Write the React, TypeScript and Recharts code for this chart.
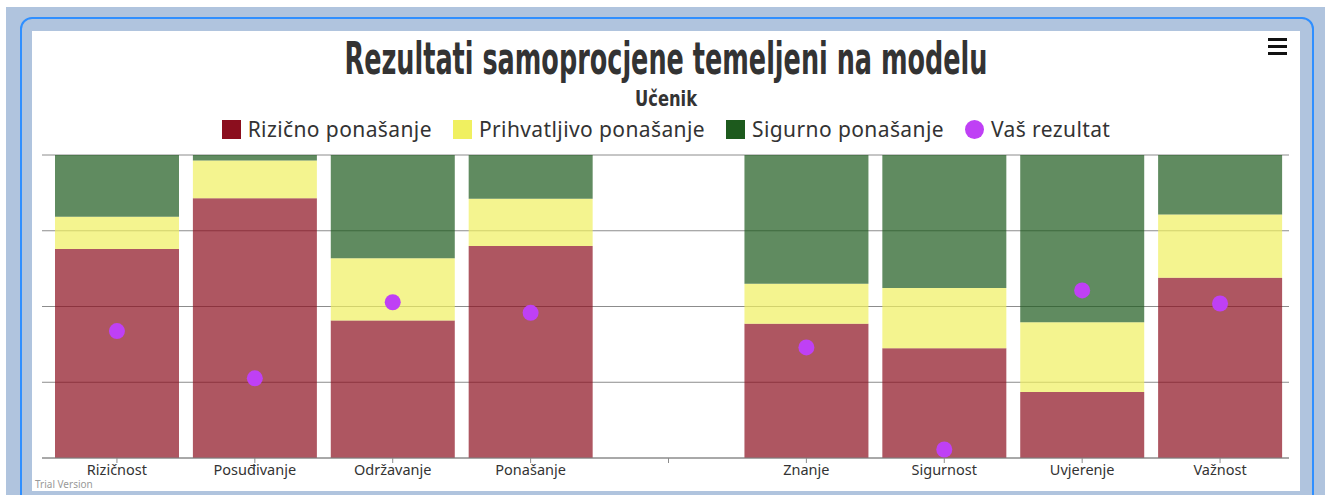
import React from "react";
import {
  ComposedChart,
  Bar,
  Line,
  XAxis,
  YAxis,
  CartesianGrid
} from "recharts";

const categories = [
  "Rizičnost",
  "Posuđivanje",
  "Održavanje",
  "Ponašanje",
  "",
  "Znanje",
  "Sigurnost",
  "Uvjerenje",
  "Važnost"
];
const rizicno = [69, 85.7, 45.4, 70, null, 44.3, 36.2, 21.8, 59.5];
const prihvatljivo = [10.6, 12.5, 20.5, 15.6, null, 13.2, 19.9, 23, 20.9];
const sigurno = [20.4, 1.8, 34.1, 14.4, null, 42.5, 43.9, 55.2, 19.6];
const rezultat = [41.9, 26.3, 51.4, 47.9, null, 36.5, 2.8, 55.3, 51.0];
const yTicks = [0, 25, 50, 75, 100];

const RED = "#8b0e1e";
const YELLOW = "#f0f060";
const GREEN = "#1d5a1d";
const PURPLE = "#bf40f5";

const legendItems = [
  { key: "rizicno", label: "Rizično ponašanje", color: RED, shape: "square" },
  { key: "prihvatljivo", label: "Prihvatljivo ponašanje", color: YELLOW, shape: "square" },
  { key: "sigurno", label: "Sigurno ponašanje", color: GREEN, shape: "square" },
  { key: "rezultat", label: "Vaš rezultat", color: PURPLE, shape: "circle" }
];

const data = categories.map((name, i) => ({
  name,
  rizicno: rizicno[i],
  prihvatljivo: prihvatljivo[i],
  sigurno: sigurno[i],
  rezultat: rezultat[i]
}));

const FONT = "'Noto Sans', 'DejaVu Sans', sans-serif";
const TITLE_FONT = "'Liberation Sans Narrow', 'DejaVu Sans Condensed', sans-serif";

function LegendBox() {
  return (
    <div
      style={{
        position: "absolute",
        left: 0,
        top: 85,
        width: 1268,
        display: "flex",
        justifyContent: "center",
        alignItems: "center",
        gap: 21,
        fontFamily: FONT,
        fontSize: 21,
        letterSpacing: 0.4,
        color: "#333",
        lineHeight: "26px"
      }}
    >
      {legendItems.map((it) => (
        <div key={it.key} style={{ display: "flex", alignItems: "center", gap: 7 }}>
          <span
            style={{
              display: "inline-block",
              width: 19,
              height: 19,
              background: it.color,
              borderRadius: it.shape === "circle" ? "50%" : 0
            }}
          />
          <span>{it.label}</span>
        </div>
      ))}
    </div>
  );
}

export default function App() {
  return (
    <div
      style={{
        position: "absolute",
        left: 6,
        top: 7,
        width: 1319,
        height: 490,
        background: "#b0c4de",
        overflow: "hidden"
      }}
    >
      <div
        style={{
          position: "absolute",
          left: 14,
          top: 10,
          width: 1294,
          height: 520,
          boxSizing: "border-box",
          border: "2px solid #2f8fff",
          borderRadius: 12
        }}
      />
      <div
        style={{
          position: "absolute",
          left: 26,
          top: 24,
          width: 1268,
          height: 460,
          background: "#fff"
        }}
      >
        <ComposedChart
          width={1268}
          height={460}
          data={data}
          margin={{ top: 124, right: 11, bottom: 3, left: 10 }}
          barCategoryGap={7}
        >
          <CartesianGrid vertical={false} stroke="#8c8c8c" />
          <XAxis
            dataKey="name"
            height={30}
            padding={{ left: 6, right: 0 }}
            axisLine={{ stroke: "#8c8c8c" }}
            tickLine={{ stroke: "#8c8c8c" }}
            tickSize={5}
            tick={{ fill: "#333", fontSize: 14.5, fontFamily: FONT }}
            interval={0}
          />
          <YAxis hide domain={[0, 100]} ticks={yTicks} />
          <Bar dataKey="rizicno" stackId="a" fill={RED} fillOpacity={0.7} isAnimationActive={false} />
          <Bar dataKey="prihvatljivo" stackId="a" fill={YELLOW} fillOpacity={0.7} isAnimationActive={false} />
          <Bar dataKey="sigurno" stackId="a" fill={GREEN} fillOpacity={0.7} isAnimationActive={false} />
          <Line
            dataKey="rezultat"
            stroke="none"
            legendType="circle"
            dot={{ r: 8, fill: PURPLE, stroke: "none" }}
            activeDot={false}
            isAnimationActive={false}
          />
        </ComposedChart>
        <LegendBox />
        <svg
          width={1268}
          height={460}
          style={{ position: "absolute", left: 0, top: 0, pointerEvents: "none" }}
        >
          {/* narrow font, stretched tall to look like the condensed heading */}
          <g transform="scale(1, 1.4)">
            <text
              x={634}
              y={30.7}
              textAnchor="middle"
              fontFamily={TITLE_FONT}
              fontWeight="bold"
              fontSize={32}
              fill="#333"
              textLength={643}
              lengthAdjust="spacingAndGlyphs"
            >
              Rezultati samoprocjene temeljeni na modelu
            </text>
          </g>
          <text
            x={634}
            y={75}
            textAnchor="middle"
            fontFamily={TITLE_FONT}
            fontWeight="bold"
            fontSize={22}
            fill="#333"
            textLength={62}
            lengthAdjust="spacingAndGlyphs"
          >
            Učenik
          </text>
          <rect x={1236} y={7} width={19} height={3} fill="#111" />
          <rect x={1236} y={14} width={19} height={3} fill="#111" />
          <rect x={1236} y={21} width={19} height={3} fill="#111" />
          <text x={3} y={457} fontFamily={FONT} fontSize={10} fill="#999">
            Trial Version
          </text>
        </svg>
      </div>
    </div>
  );
}
